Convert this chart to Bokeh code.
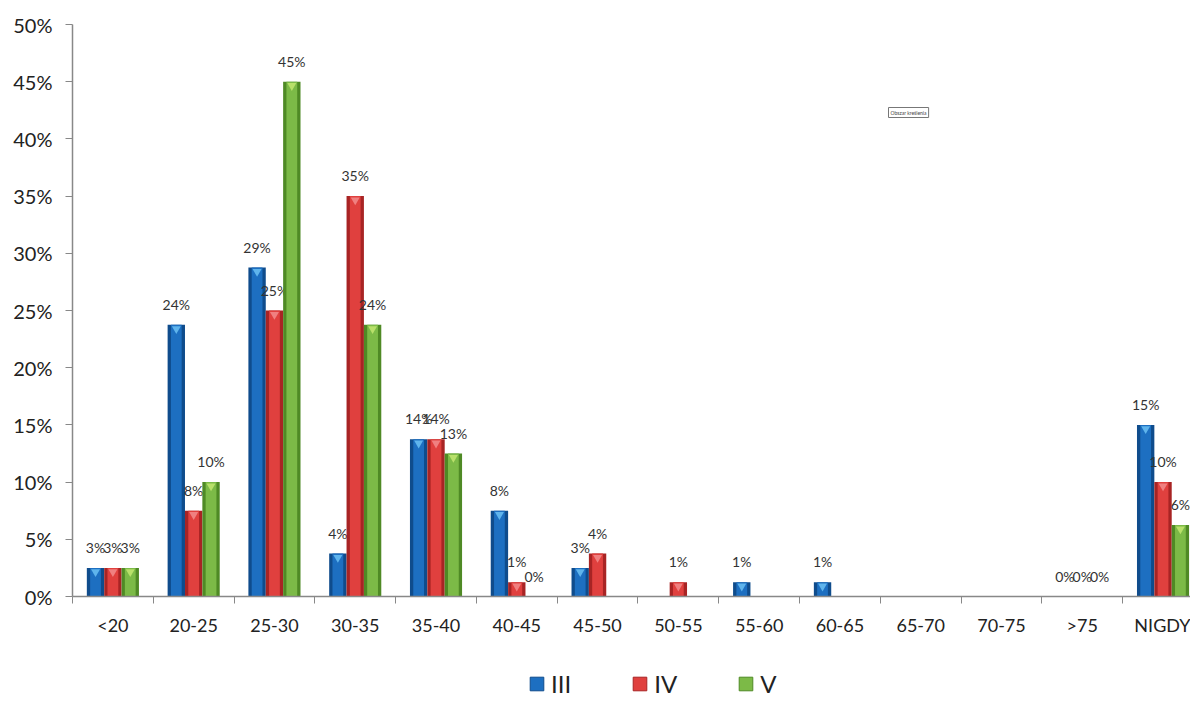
from bokeh.plotting import figure
from bokeh.layouts import column
from bokeh.models import (FixedTicker, PrintfTickFormatter, Legend, LegendItem,
                          Range1d, Label, ColumnDataSource)
from bokeh.core.properties import value
from bokeh.embed import file_html
from bokeh.resources import INLINE
import math

categories = ["<20", "20-25", "25-30", "30-35", "35-40", "40-45", "45-50",
              "50-55", "55-60", "60-65", "65-70", "70-75", ">75", "NIGDY"]
series_names = ["III", "IV", "V"]
values_III = [2.5, 23.75, 28.75, 3.75, 13.75, 7.5, 2.5, None, 1.25, 1.25, None, None, 0.0, 15.0]
values_IV = [2.5, 7.5, 25.0, 35.0, 13.75, 1.25, 3.75, 1.25, None, None, None, None, 0.0, 10.0]
values_V = [2.5, 10.0, 45.0, 23.75, 12.5, 0.0, None, None, None, None, None, None, 0.0, 6.25]
y_ticks = [0, 5, 10, 15, 20, 25, 30, 35, 40, 45, 50]

series_values = [values_III, values_IV, values_V]
base_colors = ["#1d6fc1", "#e0403e", "#7cba47"]
edge_colors = ["#0f4c8c", "#a82424", "#4f8a25"]
tip_colors = ["#5fb4ec", "#f08080", "#b8e06a"]

FONT = "Lato"

p = figure(frame_width=1118, frame_height=572, output_backend="svg",
           toolbar_location=None,
           x_range=Range1d(0, 13.84), y_range=Range1d(0, 50),
           min_border_left=72, min_border_right=0, min_border_top=24,
           min_border_bottom=0)
p.outline_line_color = None
p.xgrid.visible = False
p.ygrid.visible = False
p.background_fill_color = "white"
p.border_fill_color = "white"

# small strip below the chart that only holds the legend
p2 = figure(frame_width=1190, frame_height=68, output_backend="svg",
            toolbar_location=None, x_axis_type=None, y_axis_type=None,
            x_range=Range1d(0, 13.84), y_range=Range1d(100, 200),
            min_border=0)
p2.outline_line_color = None
p2.grid.visible = False
p2.background_fill_color = "white"
p2.border_fill_color = "white"

bar_w = 0.215
offsets = [-bar_w, 0.0, bar_w]
legend_items = []
for k, (name, vals) in enumerate(zip(series_names, series_values)):
    xs = [i + 0.5 + offsets[k] for i, v in enumerate(vals) if v is not None]
    tops = [v for v in vals if v is not None]
    src = ColumnDataSource(dict(x=xs, top=tops,
                                lab=["%d%%" % math.floor(v + 0.5) for v in tops]))
    p.vbar(x="x", top="top", width=bar_w, bottom=0, source=src,
           fill_color=edge_colors[k], line_color=None)
    p.vbar(x="x", top="top", width=bar_w * 0.62, bottom=0, source=src,
           fill_color=base_colors[k], line_color=None)
    nz = ColumnDataSource(dict(x=[x for x, t in zip(xs, tops) if t > 0],
                               y=[t - 0.35 for t in tops if t > 0]))
    p.scatter(x="x", y="y", source=nz, marker="inverted_triangle", size=9,
              fill_color=tip_colors[k], line_color=None)
    p.text(x="x", y="top", text="lab", source=src, y_offset=-12,
           text_align="center", text_baseline="bottom",
           text_font=value(FONT), text_font_size="14px", text_color="#333333")
    r2 = p2.vbar(x="x", top="top", width=bar_w, bottom=0, source=src,
                 fill_color=base_colors[k], line_color=edge_colors[k])
    legend_items.append(LegendItem(label=name, renderers=[r2]))

# x axis
centers = [i + 0.5 for i in range(len(categories))]
bounds = [float(i) for i in range(len(categories) + 1)]
xax = p.xaxis[0]
xax.ticker = FixedTicker(ticks=centers, minor_ticks=bounds)
xax.major_label_overrides = {c: lab for c, lab in zip(centers, categories)}
xax.major_tick_in = 0
xax.major_tick_out = 0
xax.minor_tick_in = 0
xax.minor_tick_out = 7
xax.minor_tick_line_color = "#888888"
xax.axis_line_color = "#888888"
xax.axis_line_width = 1.5
xax.major_label_standoff = 10
xax.major_label_text_font = FONT
xax.major_label_text_font_size = "18px"
xax.major_label_text_color = "#222222"

# y axis
yax = p.yaxis[0]
yax.ticker = FixedTicker(ticks=y_ticks, minor_ticks=[])
yax.formatter = PrintfTickFormatter(format="%d%%")
yax.major_tick_in = 0
yax.major_tick_out = 7
yax.major_tick_line_color = "#888888"
yax.axis_line_color = "#888888"
yax.axis_line_width = 1.5
yax.major_label_standoff = 13
yax.major_label_text_font = FONT
yax.major_label_text_font_size = "20px"
yax.major_label_text_color = "#222222"

legend = Legend(items=legend_items, orientation="horizontal", location=(528, 8),
                label_text_font=FONT, label_text_font_size="24px",
                label_text_color="#222222", glyph_width=17, glyph_height=17,
                spacing=60, border_line_color=None, background_fill_alpha=0,
                margin=0, padding=0, label_standoff=6)
p2.add_layout(legend, "center")

p.add_layout(Label(x=816, y=479, x_units="screen", y_units="screen",
                   text="Obszar kreślenia", text_font=FONT,
                   text_font_size="5px", text_color="#444444",
                   border_line_color="#777777", background_fill_color="white",
                   padding=2))

layout = column(p, p2, spacing=0)
open("out.html", "w").write(file_html(layout, INLINE))
